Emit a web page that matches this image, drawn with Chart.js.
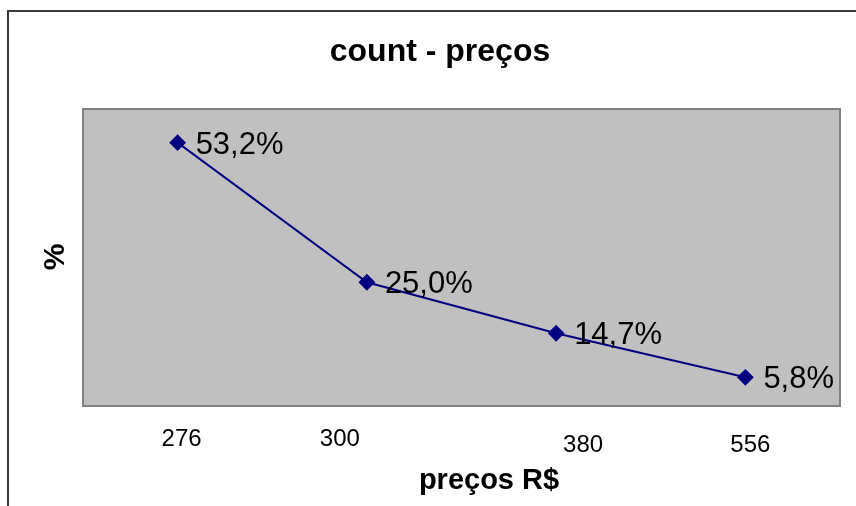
<!DOCTYPE html>
<html>
<head>
<meta charset="utf-8">
<script src="https://cdn.jsdelivr.net/npm/chart.js@4"></script>
<style>
  html, body { margin: 0; padding: 0; background: #ffffff; }
  #wrap { width: 856px; height: 506px; position: relative; }
</style>
</head>
<body>
<div id="wrap"><canvas id="c" width="856" height="506"></canvas></div>
<script>
// Price points (R$) and share of counts (%)
const categories = ['276', '300', '380', '556'];
const shares = [53.2, 25.0, 14.7, 5.8];
const chartTitle = 'count - preços';
const xTitle = 'preços R$';
const yTitle = '%';

const FONT = '"Liberation Sans", Arial, sans-serif';
const NAVY = '#000080';

// Excel-like staggered placement of category labels (px offsets from tick / axis bottom)
const tickLabelShift = [
  { dx: 4, dy: 33 },
  { dx: -27, dy: 33 },
  { dx: 27, dy: 39 },
  { dx: 5, dy: 39 }
];

const fmt = v => v.toFixed(1).replace('.', ',') + '%';

const decor = {
  id: 'decor',
  beforeDraw(chart) {
    const { ctx, chartArea: a } = chart;
    ctx.save();
    // outer frame (left and top edges)
    ctx.fillStyle = '#3a3a3a';
    ctx.fillRect(7, 10, 856 - 7, 2);
    ctx.fillRect(7, 10, 2, 506 - 10);
    // plot area
    ctx.fillStyle = '#c0c0c0';
    ctx.fillRect(a.left, a.top, a.right - a.left, a.bottom - a.top);
    ctx.strokeStyle = '#808080';
    ctx.lineWidth = 2;
    ctx.strokeRect(a.left, a.top, a.right - a.left, a.bottom - a.top);
    ctx.restore();
  },
  afterDraw(chart) {
    const { ctx, chartArea: a, scales } = chart;
    ctx.save();
    ctx.fillStyle = '#000000';

    // title
    ctx.font = 'bold 32px ' + FONT;
    ctx.textAlign = 'center';
    ctx.textBaseline = 'alphabetic';
    ctx.fillText(chartTitle, 440, 61);

    // category labels
    ctx.font = '24px ' + FONT;
    ctx.textBaseline = 'middle';
    const xs = scales.x;
    xs.ticks.forEach((t, i) => {
      const s = tickLabelShift[i] || { dx: 0, dy: 33 };
      ctx.fillText(categories[i], xs.getPixelForTick(i) + s.dx, a.bottom + s.dy);
    });

    // x axis title
    ctx.font = 'bold 29px ' + FONT;
    ctx.textBaseline = 'alphabetic';
    ctx.fillText(xTitle, 489, 489);

    // y axis title
    ctx.save();
    ctx.translate(56, 257);
    ctx.rotate(-Math.PI / 2);
    ctx.textBaseline = 'middle';
    ctx.font = 'bold 30px ' + FONT;
    ctx.fillText(yTitle, 0, 0);
    ctx.restore();

    // value labels
    ctx.font = '31px ' + FONT;
    ctx.textAlign = 'left';
    ctx.textBaseline = 'alphabetic';
    const meta = chart.getDatasetMeta(0);
    meta.data.forEach((pt, i) => {
      ctx.fillText(fmt(shares[i]), pt.x + 18, pt.y + 11);
    });
    ctx.restore();
  }
};

new Chart(document.getElementById('c'), {
  type: 'line',
  data: {
    labels: categories,
    datasets: [{
      data: shares,
      borderColor: NAVY,
      backgroundColor: NAVY,
      borderWidth: 2,
      pointStyle: 'rectRot',
      pointRadius: 7,
      pointHoverRadius: 7,
      pointBackgroundColor: NAVY,
      pointBorderColor: NAVY,
      tension: 0,
      fill: false
    }]
  },
  options: {
    responsive: false,
    animation: false,
    layout: { padding: { left: 83, top: 109, right: 16, bottom: 100 } },
    plugins: {
      legend: { display: false },
      title: { display: false },
      tooltip: { enabled: false }
    },
    scales: {
      x: { type: 'category', offset: true, display: false },
      y: { min: 0, max: 60, display: false }
    }
  },
  plugins: [decor]
});
</script>
</body>
</html>
